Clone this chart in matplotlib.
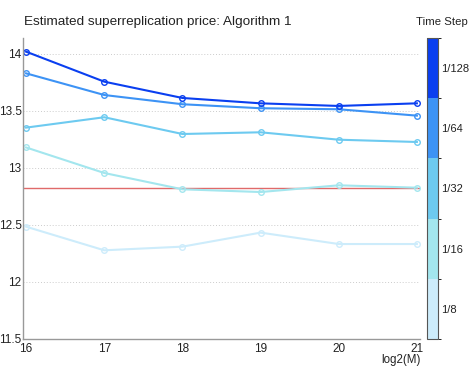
import matplotlib
matplotlib.use("Agg")
import matplotlib.pyplot as plt
from matplotlib.colors import ListedColormap, BoundaryNorm
from matplotlib.colorbar import ColorbarBase

plt.rcParams['font.family'] = ['Liberation Sans', 'DejaVu Sans']

# data
log2M = [16, 17, 18, 19, 20, 21]
step_labels = ["1/8", "1/16", "1/32", "1/64", "1/128"]
step_colors = ["#cdecfb", "#a3e6ee", "#6dcaf0", "#3d93f5", "#0a3ff0"]
price_1_8 = [12.485, 12.278, 12.310, 12.433, 12.333, 12.333]
price_1_16 = [13.180, 12.956, 12.813, 12.789, 12.848, 12.827]
price_1_32 = [13.354, 13.445, 13.298, 13.313, 13.248, 13.228]
price_1_64 = [13.830, 13.640, 13.559, 13.524, 13.515, 13.459]
price_1_128 = [14.020, 13.757, 13.614, 13.567, 13.544, 13.567]
reference_price = 12.827

series = [price_1_8, price_1_16, price_1_32, price_1_64, price_1_128]

fig = plt.figure(figsize=(4.71, 3.77), dpi=100)
ax = fig.add_axes([0.0488, 0.1008, 0.8429, 0.7984])

for yticky in [12, 12.5, 13, 13.5, 14]:
    ax.axhline(yticky, color="#cccccc", lw=0.7, ls=(0, (1, 2)), zorder=0)

ax.axhline(reference_price, color="#e06a6a", lw=1.0, zorder=1)

for vals, col in zip(series, step_colors):
    ax.plot(log2M, vals, color=col, lw=1.5, marker="o", ms=4,
            mfc="none", mec=col, mew=1.0, zorder=2)

ax.set_xlim(15.96, 21.04)
ax.set_ylim(11.5, 14.14)
ax.set_xticks(log2M)
ax.set_xticklabels([str(v) for v in log2M])
ax.set_yticks([11.5, 12, 12.5, 13, 13.5, 14])
ax.set_yticklabels(["11.5", "12", "12.5", "13", "13.5", "14"])
ax.tick_params(length=0, labelsize=8.5, colors="#222222")
ax.tick_params(axis="x", pad=3)
ax.tick_params(axis="y", pad=1)
for s in ["top", "right"]:
    ax.spines[s].set_visible(False)
for s in ["left", "bottom"]:
    ax.spines[s].set_color("#999999")
    ax.spines[s].set_linewidth(1.0)

fig.text(24 / 471, 1 - 22 / 377, "Estimated superreplication price: Algorithm 1",
         fontsize=9.7, va="center", ha="left", color="#222222")
fig.text(421 / 471, 1 - 360 / 377, "log2(M)", fontsize=8.3,
         va="center", ha="right", color="#222222")

# colour bar for the time steps
cax = fig.add_axes([427 / 471, 0.1008, 11 / 471, 0.7984])
cmap = ListedColormap(step_colors)
norm = BoundaryNorm(range(len(step_colors) + 1), cmap.N)
cb = ColorbarBase(cax, cmap=cmap, norm=norm, orientation="vertical")
cb.set_ticks([i + 0.5 for i in range(len(step_labels))])
cb.set_ticklabels(step_labels)
cax.tick_params(length=0, labelsize=8, pad=2, colors="#222222")
cb.outline.set_edgecolor("#555555")
cb.outline.set_linewidth(0.8)
fig.text(442 / 471, 1 - 22 / 377, "Time Step", fontsize=8.2,
         va="center", ha="center", color="#222222")

fig.savefig("out.png", dpi=100)
